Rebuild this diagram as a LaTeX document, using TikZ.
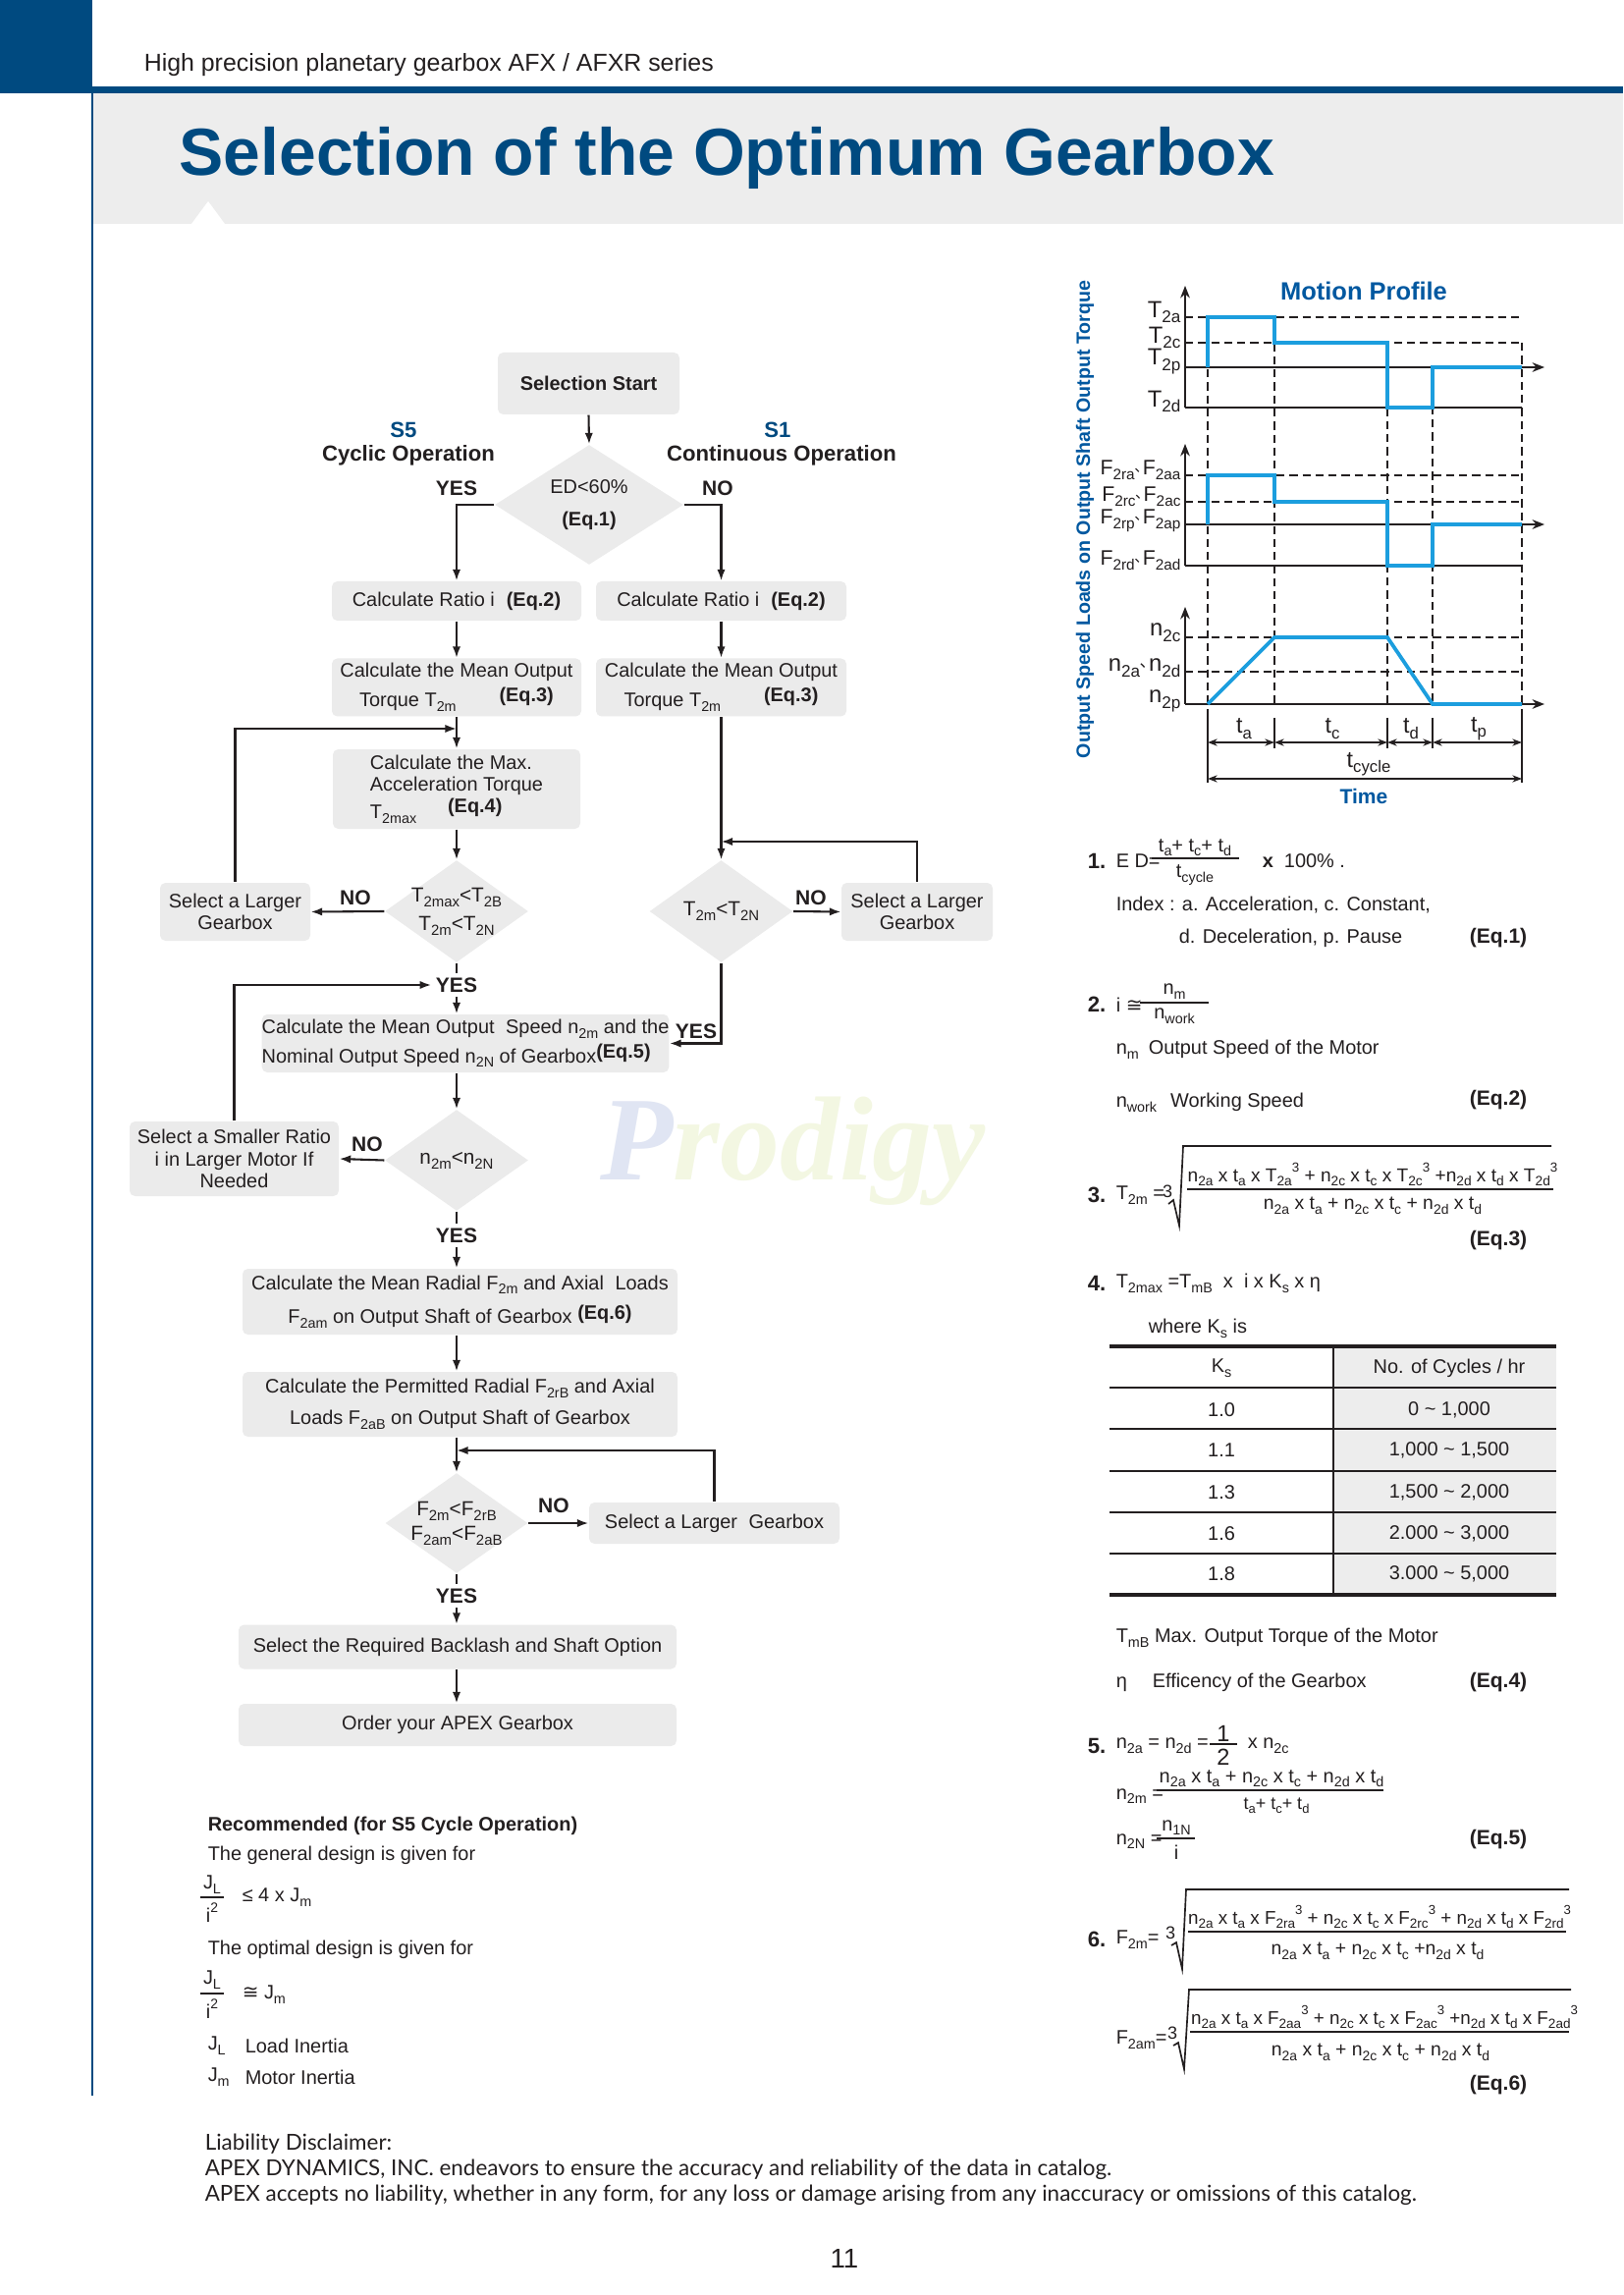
\documentclass[tikz,border=0pt]{standalone}
\usepackage{fontspec}
\usepackage{graphicx}
\setmainfont{Liberation Sans}
\newfontfamily\cjkf{Noto Sans CJK SC}
\newfontfamily\djv{DejaVu Sans}
\newfontfamily\latof{Lato}
\newfontfamily\wmserif{Liberation Serif}
\usetikzlibrary{shapes.geometric,arrows.meta}
\definecolor{hblue}{RGB}{0,74,128}
\definecolor{pblue}{RGB}{0,88,160}
\definecolor{pline}{RGB}{28,158,222}
\definecolor{boxg}{RGB}{235,235,235}
\definecolor{bandg}{RGB}{237,237,237}
\definecolor{txt}{RGB}{35,31,32}
\definecolor{wmP}{RGB}{224,229,243}
\definecolor{wmR}{RGB}{243,247,226}
\newcommand\subx[1]{\raisebox{-0.45ex}{\scalebox{0.72}{#1}}}
\newcommand\supx[1]{\raisebox{0.95ex}{\scalebox{0.7}{#1}}}
\newcommand\fsz{\fontsize{7.2}{8.2}\selectfont}
\newcommand\dunh{\kern-0.02em\raisebox{0.3ex}{\scalebox{0.7}{\cjkf 、}}\kern-0.3em}
\newcommand\apeqx{{\djv ≅}}
\begin{document}
\begin{tikzpicture}[x=0.127mm, y=-0.127mm, font=\fsz,
  every node/.style={text=txt},
  fbx/.style 2 args={rectangle, fill=boxg, rounded corners=2pt, minimum width={#1*0.127mm}, minimum height={#2*0.127mm}, inner sep=0pt, align=center},
  dia/.style 2 args={diamond, fill=boxg, minimum width={#1*0.127mm}, minimum height={#2*0.127mm}, inner sep=0pt},
  arr/.style={draw=txt, line width=0.75pt, -{Latex[length=4.2pt,width=3pt]}},
  ln/.style={draw=txt, line width=0.75pt},
  lbl/.style={font=\fontsize{7.6}{8}\selectfont\bfseries, inner sep=1.5pt},
  axl/.style={draw=txt, line width=0.6pt},
  axa/.style={draw=txt, line width=0.6pt, -{Stealth[length=4.5pt,width=3.5pt]}},
  dsh/.style={draw=txt, line width=0.5pt, dash pattern=on 3pt off 1.8pt},
  prof/.style={draw=pline, line width=1.35pt},
  dim/.style={draw=txt, line width=0.55pt, {Stealth[length=3.5pt,width=2.6pt]}-{Stealth[length=3.5pt,width=2.6pt]}},
  eqt/.style={anchor=east, font=\fontsize{7.6}{8}\selectfont\bfseries},
  num/.style={anchor=west, font=\fontsize{8}{9}\selectfont\bfseries},
  frl/.style={draw=txt, line width=0.5pt},
  plab/.style={anchor=east, font=\fontsize{8.6}{9}\selectfont, inner sep=0pt},
  flab/.style={anchor=east, font=\fontsize{7.7}{9}\selectfont, inner sep=0pt},
]
\useasboundingbox (0,0) rectangle (1653,2337);
\fill[white] (0,0) rectangle (1653,2337);
% ---------- header ----------
\fill[hblue] (0,0) rectangle (94,95);
\fill[hblue] (0,88) rectangle (1653,95);
\fill[bandg] (95,95) rectangle (1653,228);
\fill[white] (195,228) -- (212,205) -- (229,228) -- cycle;
\draw[hblue, line width=1pt] (94,95) -- (94,2134);
\node[anchor=west, font=\fontsize{9}{10}\selectfont] (hdr) at (137,66) {High precision planetary gearbox AFX / AFXR series};
\node[anchor=base west, font=\fontsize{24.5}{26}\selectfont\bfseries, text=hblue, inner sep=0pt] (title) at (182,179) {Selection of the Optimum Gearbox};
% ---------- watermark ----------
\node[anchor=base west, inner sep=0pt, font=\fontsize{44}{44}\selectfont\wmserif\bfseries\itshape] (wm) at (611,1201) {\textcolor{wmP}{P}\textcolor{wmR}{rodigy}};
% ---------- flowchart ----------
\node[fbx={185}{63}, font=\fsz\bfseries] (start) at (599.5,390.5) {Selection Start};
\node[dia={192}{122}, label={[align=center]center:ED<60\%\\[4pt]\textbf{(Eq.1)}}] (d1) at (600,514) {};
\node[font=\fontsize{8}{9}\selectfont\bfseries, text=hblue] (s5) at (411,438) {S5};
\node[font=\fontsize{8}{9}\selectfont\bfseries] (cyc) at (416,464) {Cyclic Operation};
\node[font=\fontsize{8}{9}\selectfont\bfseries, text=hblue] (s1) at (792,438) {S1};
\node[font=\fontsize{8}{9}\selectfont\bfseries] (cont) at (796,464) {Continuous Operation};
\node[lbl] (yes1) at (465,497) {YES};
\node[lbl] (no1) at (731,497) {NO};
\node[fbx={254}{40}] (r1) at (465,612) {Calculate Ratio i\hspace{0.6em}\textbf{(Eq.2)}};
\node[fbx={255}{40}] (r2) at (734.5,612) {Calculate Ratio i\hspace{0.6em}\textbf{(Eq.2)}};
\node[fbx={254}{59}] (m1) at (465,700) {Calculate the Mean Output\\[1.2pt]Torque T\subx{2m}\hspace{2.2em}\raisebox{0.5ex}{\textbf{(Eq.3)}}};
\node[fbx={255}{59}] (m2) at (734.5,700) {Calculate the Mean Output\\[1.2pt]Torque T\subx{2m}\hspace{2.2em}\raisebox{0.5ex}{\textbf{(Eq.3)}}};
\node[fbx={252}{81}, align=left] (mx) at (465,803.5) {Calculate the Max.\\Acceleration Torque\\T\subx{2max}\hspace{1.6em}\raisebox{0.6ex}{\textbf{(Eq.4)}}};
\coordinate (j1) at (465,742);
\node[dia={146}{104}, label={[align=center, font=\fontsize{7.5}{8}\selectfont]center:T\subx{2max}<T\subx{2B}\\[2.5pt]T\subx{2m}<T\subx{2N}}] (d2) at (465,928) {};
\node[dia={146}{104}, label={[font=\fontsize{7.5}{8}\selectfont]center:T\subx{2m}<T\subx{2N}}] (d3) at (734.5,928) {};
\node[fbx={153}{59}] (lg1) at (239.5,928.5) {Select a Larger\\Gearbox};
\node[fbx={154}{59}] (lg2) at (934,928.5) {Select a Larger\\Gearbox};
\coordinate (j2) at (734.5,857);
\node[lbl] (no2) at (362,914) {NO};
\node[lbl] (no3) at (826,914) {NO};
\node[lbl] (yes2) at (465,1003) {YES};
\node[fbx={414}{59}, align=left] (sp) at (474,1062.5) {Calculate the Mean Output\hspace{0.3em} Speed n\subx{2m} and the\\[1.2pt]Nominal Output Speed n\subx{2N} of Gearbox\raisebox{0.4ex}{\textbf{(Eq.5)}}};
\node[lbl] (yes3) at (709,1050) {YES};
\node[dia={146}{103}, label={[font=\fontsize{7.5}{8}\selectfont]center:n\subx{2m}<n\subx{2N}}] (d4) at (465,1181.5) {};
\node[fbx={213}{76}] (sr) at (238.5,1180) {Select a Smaller Ratio\\i in Larger Motor If\\Needed};
\node[lbl] (no4) at (374,1165) {NO};
\node[lbl] (yes4) at (465,1258) {YES};
\node[fbx={443}{67}] (rad) at (468.5,1325.5) {Calculate the Mean Radial F\subx{2m} and Axial\hspace{0.3em} Loads\\[3pt]F\subx{2am} on Output Shaft of Gearbox \raisebox{0.4ex}{\textbf{(Eq.6)}}};
\node[fbx={443}{66}] (perm) at (468.5,1430) {Calculate the Permitted Radial F\subx{2rB} and Axial\\[3.3pt]Loads F\subx{2aB} on Output Shaft of Gearbox};
\coordinate (j3) at (465,1477);
\node[dia={145}{102}, label={[align=center, font=\fontsize{7.5}{8}\selectfont]center:F\subx{2m}<F\subx{2rB}\\[1pt]F\subx{2am}<F\subx{2aB}}] (d5) at (465,1551) {};
\node[lbl] (no5) at (564,1533) {NO};
\node[fbx={255}{42}] (lg3) at (727.5,1551) {Select a Larger\hspace{0.3em} Gearbox};
\node[lbl] (yes5) at (465,1625) {YES};
\node[fbx={446}{45}] (bk) at (466,1677) {Select the Required Backlash and Shaft Option};
\node[fbx={446}{43}] (ord) at (466,1756.5) {Order your APEX Gearbox};
% connectors
\draw[arr] (start.south) -- (d1.north);
\draw[arr] (d1.west) -| (r1.north);
\draw[arr] (d1.east) -| (r2.north);
\draw[arr] (r1.south) -- (m1.north);
\draw[arr] (r2.south) -- (m2.north);
\draw[arr] (m1.south) -- (mx.north);
\draw[arr] (lg1.north) |- (j1);
\draw[arr] (mx.south) -- (d2.north);
\draw[arr] (d2.west) -- (lg1.east);
\draw[ln] (d2.south) -- (yes2.north);
\draw[arr] (yes2.south) -- (yes2.south |- sp.north);
\draw[arr] (sr.north) |- (yes2.west);
\draw[arr] (m2.south) -- (d3.north);
\draw[arr] (lg2.north) |- (j2);
\draw[arr] (d3.east) -- (lg2.west);
\draw[arr] (d3.south) |- (sp.east);
\draw[arr] (d4.north |- sp.south) -- (d4.north);
\draw[arr] (d4.west) -- (sr.east);
\draw[ln] (d4.south) -- (yes4.north);
\draw[arr] (yes4.south) -- (yes4.south |- rad.north);
\draw[arr] (d4.south |- rad.south) -- (d4.south |- perm.north);
\draw[arr] (d5.north |- perm.south) -- (d5.north);
\draw[arr] (lg3.north) |- (j3);
\draw[arr] (d5.east) -- (lg3.west);
\draw[ln] (d5.south) -- (yes5.north);
\draw[arr] (yes5.south) -- (yes5.south |- bk.north);
\draw[arr] (d5.south |- bk.south) -- (d5.south |- ord.north);
% ---------- recommended ----------
\node[anchor=west, font=\fsz\bfseries] (rec) at (202,1859) {Recommended (for S5 Cycle Operation)};
\node[anchor=west] (gen) at (202,1889) {The general design is given for};
\node (jl1) at (216,1919) {J\subx{L}};
\draw[frl] (204,1932) -- (228,1932);
\node (i1) at (216,1948) {i\supx{2}};
\node[anchor=west] (le) at (237,1932) {≤ 4 x J\subx{m}};
\node[anchor=west] (opt) at (202,1985) {The optimal design is given for};
\node (jl2) at (216,2016) {J\subx{L}};
\draw[frl] (204,2030) -- (228,2030);
\node (i2) at (216,2046) {i\supx{2}};
\node[anchor=west] (ap) at (237,2031) {\apeqx\ J\subx{m}};
\node[anchor=west] (jl3) at (202,2083) {J\subx{L}};
\node[anchor=west] (li) at (240,2083) {Load Inertia};
\node[anchor=west] (jm3) at (202,2115) {J\subx{m}};
\node[anchor=west] (mi) at (240,2115) {Motor Inertia};
% ---------- footer ----------
\node[anchor=west, font=\fontsize{8.1}{9}\selectfont\latof] (f1) at (199,2183) {Liability Disclaimer:};
\node[anchor=west, font=\fontsize{8.1}{9}\selectfont\latof] (f2) at (199,2209) {APEX DYNAMICS, INC. endeavors to ensure the accuracy and reliability of the data in catalog.};
\node[anchor=west, font=\fontsize{8.1}{9}\selectfont\latof] (f3) at (199,2235) {APEX accepts no liability, whether in any form, for any loss or damage arising from any inaccuracy or omissions of this catalog.};
\node[font=\fontsize{10}{11}\selectfont] (pg) at (860,2300) {11};
% ---------- motion profile ----------
\node[rotate=90, font=\fontsize{7.1}{8}\selectfont\bfseries, text=pblue] (ylab) at (1105,529) {Output Speed Loads on Output Shaft Output Torque};
\node[font=\fontsize{9.2}{10}\selectfont\bfseries, text=pblue] (mp) at (1389,296) {Motion Profile};
\node[font=\fontsize{7.6}{8}\selectfont\bfseries, text=pblue] (time) at (1389,811) {Time};
% torque
\draw[axa] (1207,415) -- (1207,291);
\draw[dsh] (1207,323) -- (1550,323);
\draw[dsh] (1207,349) -- (1550,349);
\draw[axa] (1207,374) -- (1573,374);
\draw[axl] (1207,415) -- (1550,415);
% loads
\draw[axa] (1207,576) -- (1207,452);
\draw[dsh] (1207,484) -- (1550,484);
\draw[dsh] (1207,511) -- (1550,511);
\draw[axa] (1207,534) -- (1573,534);
\draw[axl] (1207,576) -- (1550,576);
% speed
\draw[axa] (1207,717) -- (1207,618);
\draw[dsh] (1207,649) -- (1550,649);
\draw[dsh] (1207,684) -- (1550,684);
\draw[axa] (1207,717) -- (1573,717);
% verticals
\draw[dsh] (1230,323) -- (1230,717);
\draw[dsh] (1298,323) -- (1298,717);
\draw[dsh] (1413,349) -- (1413,717);
\draw[dsh] (1459,374) -- (1459,717);
\draw[dsh] (1550,349) -- (1550,717);
\draw[axl] (1230,722) -- (1230,797);
\draw[axl] (1550,722) -- (1550,797);
\draw[axl] (1298,731) -- (1298,762);
\draw[axl] (1413,731) -- (1413,762);
\draw[axl] (1459,731) -- (1459,762);
% blue profiles
\draw[prof] (1230,374) -- (1230,323) -- (1298,323) -- (1298,349) -- (1413,349) -- (1413,415) -- (1459,415) -- (1459,374) -- (1550,374);
\draw[prof] (1230,534) -- (1230,484) -- (1298,484) -- (1298,511) -- (1413,511) -- (1413,576) -- (1459,576) -- (1459,534) -- (1550,534);
\draw[prof] (1230,717) -- (1298,649) -- (1413,649) -- (1459,717) -- (1550,717);
% labels
\node[plab] (lT2a) at (1203,318) {T\subx{2a}};
\node[plab] (lT2c) at (1203,344) {T\subx{2c}};
\node[plab] (lT2p) at (1203,368) {T\subx{2p}};
\node[plab] (lT2d) at (1203,409) {T\subx{2d}};
\node[flab] (lFa) at (1203,479) {F\subx{2ra}\dunh F\subx{2aa}};
\node[flab] (lFc) at (1203,506) {F\subx{2rc}\dunh F\subx{2ac}};
\node[flab] (lFp) at (1203,530) {F\subx{2rp}\dunh F\subx{2ap}};
\node[flab] (lFd) at (1203,571) {F\subx{2rd}\dunh F\subx{2ad}};
\node[plab] (ln2c) at (1203,644) {n\subx{2c}};
\node[plab] (ln2a) at (1203,680) {n\subx{2a}\dunh n\subx{2d}};
\node[plab] (ln2p) at (1203,714) {n\subx{2p}};
% time dims
\draw[dim] (1230,756) -- (1298,756);
\draw[dim] (1298,756) -- (1413,756);
\draw[dim] (1413,756) -- (1459,756);
\draw[dim] (1459,756) -- (1550,756);
\draw[dim] (1230,793) -- (1550,793);
\node[font=\fontsize{8.4}{9}\selectfont] (lta) at (1267,742) {t\subx{a}};
\node[font=\fontsize{8.4}{9}\selectfont] (ltc) at (1357,742) {t\subx{c}};
\node[font=\fontsize{8.4}{9}\selectfont] (ltd) at (1437,742) {t\subx{d}};
\node[font=\fontsize{8.4}{9}\selectfont] (ltp) at (1506,742) {t\subx{p}};
\node[font=\fontsize{8.4}{9}\selectfont] (ltcy) at (1394,778) {t\subx{cycle}};
% ---------- equations ----------
% Eq1
\node[num] (n1) at (1098,877) {1.};
\node[anchor=west] (e1a) at (1127,877) {E D=};
\draw[frl] (1173,874) -- (1262,874);
\node (e1n) at (1217,863) {t\subx{a}+ t\subx{c}+ t\subx{d}};
\node (e1d) at (1217,891) {t\subx{cycle}};
\node[anchor=west] (e1b) at (1276,877) {\textbf{x}\ \ 100\% .};
\node[anchor=west] (idx1) at (1127,922) {Index : a. Acceleration, c. Constant,};
\node[anchor=west] (idx2) at (1191,955) {d. Deceleration, p. Pause};
\node[eqt] (q1) at (1565,955) {(Eq.1)};
% Eq2
\node[num] (n2) at (1098,1023) {2.};
\node[anchor=west] (e2a) at (1127,1023) {i \apeqx};
\draw[frl] (1161,1021) -- (1231,1021);
\node (e2n) at (1196,1010) {n\subx{m}};
\node (e2d) at (1196,1035) {n\subx{work}};
\node[anchor=west] (e2b) at (1127,1069) {n\subx{m}\hspace{0.5em}Output Speed of the Motor};
\node[anchor=west] (e2c) at (1127,1123) {n\subx{work}\hspace{0.7em}Working Speed};
\node[eqt] (q2) at (1565,1120) {(Eq.2)};
% Eq3
\node[num] (n3) at (1098,1217) {3.};
\node[anchor=west] (e3a) at (1127,1217) {T\subx{2m} =};
\node[font=\fontsize{6.5}{7}\selectfont, inner sep=0pt] (e3r) at (1189,1213) {3};
\draw[frl, line width=0.6pt] (1190,1226) -- (1195,1222) -- (1201,1248) -- (1205,1167) -- (1580,1167);
\draw[frl] (1209,1211) -- (1582,1211);
\node[font=\fontsize{6.9}{8}\selectfont] (e3n) at (1398,1196) {n\subx{2a} x t\subx{a} x T\subx{2a}\supx{3} + n\subx{2c} x t\subx{c} x T\subx{2c}\supx{3} +n\subx{2d} x t\subx{d} x T\subx{2d}\supx{3}};
\node[font=\fontsize{7}{8}\selectfont] (e3d) at (1398,1228) {n\subx{2a} x t\subx{a} + n\subx{2c} x t\subx{c} + n\subx{2d} x t\subx{d}};
\node[eqt] (q3) at (1565,1263) {(Eq.3)};
% Eq4
\node[num] (n4) at (1098,1307) {4.};
\node[anchor=west] (e4a) at (1127,1307) {T\subx{2max} =T\subx{mB}\ \ x\ \ i\ x K\subx{s} x η};
\node[anchor=west] (e4b) at (1160,1353) {where K\subx{s} is};
\fill[bandg] (1358,1371) rectangle (1585,1624);
\draw[txt, line width=1.1pt] (1130,1371) -- (1585,1371);
\foreach \yy in {1413,1455,1498,1540,1582} \draw[txt, line width=0.7pt] (1130,\yy) -- (1585,\yy);
\draw[txt, line width=1.1pt] (1130,1624) -- (1585,1624);
\draw[txt, line width=0.5pt] (1358,1371) -- (1358,1624);
\node (th1) at (1244,1393) {K\subx{s}};
\node (th2) at (1476,1393) {No. of Cycles / hr};
\node (tk1) at (1244,1436) {1.0};
\node (tc1) at (1476,1436) {0 \textasciitilde\ 1,000};
\node (tk2) at (1244,1477) {1.1};
\node (tc2) at (1476,1477) {1,000 \textasciitilde\ 1,500};
\node (tk3) at (1244,1520) {1.3};
\node (tc3) at (1476,1520) {1,500 \textasciitilde\ 2,000};
\node (tk4) at (1244,1562) {1.6};
\node (tc4) at (1476,1562) {2.000 \textasciitilde\ 3,000};
\node (tk5) at (1244,1603) {1.8};
\node (tc5) at (1476,1603) {3.000 \textasciitilde\ 5,000};
\node[anchor=west] (e4c) at (1127,1668) {T\subx{mB} Max. Output Torque of the Motor};
\node[anchor=west] (e4d) at (1127,1713) {η\hspace{1.3em}Efficency of the Gearbox};
\node[eqt] (q4) at (1565,1713) {(Eq.4)};
% Eq5
\node[num] (n5) at (1098,1778) {5.};
\node[anchor=west] (e5a) at (1127,1778) {n\subx{2a} = n\subx{2d} =};
\draw[frl] (1232,1776) -- (1260,1776);
\node[font=\fontsize{8.5}{9}\selectfont] (e5h1) at (1246,1765) {1};
\node[font=\fontsize{8.5}{9}\selectfont] (e5h2) at (1246,1789) {2};
\node[anchor=west] (e5b) at (1261,1778) {x n\subx{2c}};
\node[anchor=west] (e5c) at (1127,1829) {n\subx{2m} =};
\draw[frl] (1178,1823) -- (1409,1823);
\node (e5n) at (1295,1811) {n\subx{2a} x t\subx{a} + n\subx{2c} x t\subx{c} + n\subx{2d} x t\subx{d}};
\node[font=\fontsize{6.5}{7}\selectfont] (e5d) at (1300,1839) {t\subx{a}+ t\subx{c}+ t\subx{d}};
\node[anchor=west] (e5e) at (1127,1875) {n\subx{2N} =};
\draw[frl] (1178,1872) -- (1217,1872);
\node (e5f) at (1198,1861) {n\subx{1N}};
\node (e5g) at (1198,1886) {i};
\node[eqt] (q5) at (1565,1873) {(Eq.5)};
% Eq6
\node[num] (n6) at (1098,1975) {6.};
\node[anchor=west] (e6a) at (1127,1975) {F\subx{2m}=};
\node[font=\fontsize{6.5}{7}\selectfont, inner sep=0pt] (e6r) at (1192,1968) {3};
\draw[frl, line width=0.6pt] (1193,1981) -- (1198,1978) -- (1204,2005) -- (1208,1924) -- (1598,1924);
\draw[frl] (1210,1967) -- (1595,1967);
\node[font=\fontsize{6.8}{8}\selectfont] (e6n) at (1405,1952) {n\subx{2a} x t\subx{a} x F\subx{2ra}\supx{3} + n\subx{2c} x t\subx{c} x F\subx{2rc}\supx{3} + n\subx{2d} x t\subx{d} x F\subx{2rd}\supx{3}};
\node[font=\fontsize{7}{8}\selectfont] (e6d) at (1403,1987) {n\subx{2a} x t\subx{a} + n\subx{2c} x t\subx{c} +n\subx{2d} x t\subx{d}};
\node[anchor=west] (e6b) at (1127,2077) {F\subx{2am}=};
\node[font=\fontsize{6.5}{7}\selectfont, inner sep=0pt] (e6s) at (1194,2070) {3};
\draw[frl, line width=0.6pt] (1195,2083) -- (1200,2080) -- (1206,2107) -- (1211,2026) -- (1600,2026);
\draw[frl] (1212,2069) -- (1598,2069);
\node[font=\fontsize{6.8}{8}\selectfont] (e6m) at (1410,2054) {n\subx{2a} x t\subx{a} x F\subx{2aa}\supx{3} + n\subx{2c} x t\subx{c} x F\subx{2ac}\supx{3} +n\subx{2d} x t\subx{d} x F\subx{2ad}\supx{3}};
\node[font=\fontsize{7}{8}\selectfont] (e6e) at (1406,2090) {n\subx{2a} x t\subx{a} + n\subx{2c} x t\subx{c} + n\subx{2d} x t\subx{d}};
\node[eqt] (q6) at (1565,2123) {(Eq.6)};
\end{tikzpicture}
\end{document}
